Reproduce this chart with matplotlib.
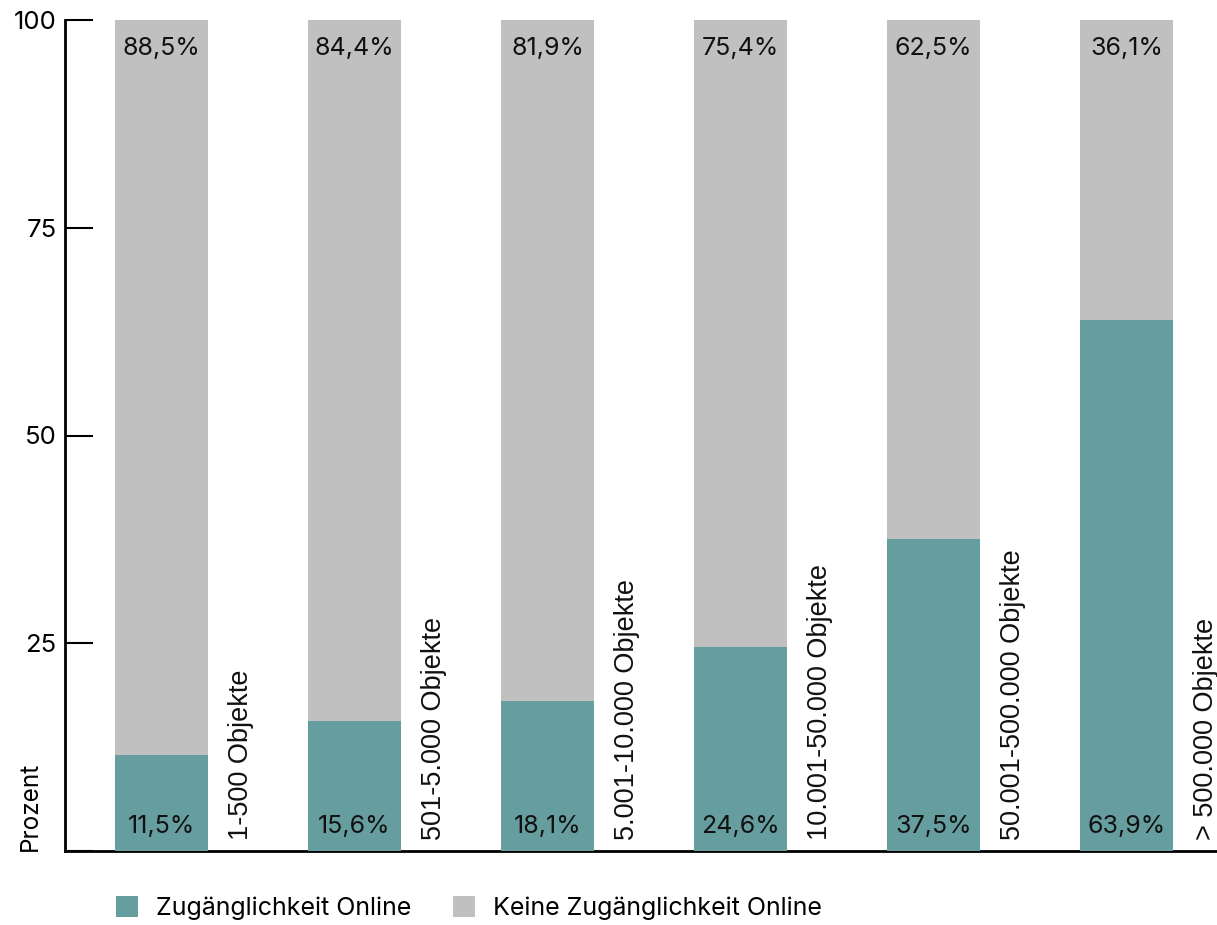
import matplotlib.pyplot as plt
import numpy as np

# Data
categories = ["1-500 Objekte", "501-5.000 Objekte", "5.001-10.000 Objekte",
              "10.001-50.000 Objekte", "50.001-500.000 Objekte", "> 500.000 Objekte"]
online = [11.5, 15.6, 18.1, 24.6, 37.5, 63.9]
offline = [88.5, 84.4, 81.9, 75.4, 62.5, 36.1]
yticks = [25, 50, 75, 100]

teal = "#669ea0"
grey = "#c0c0c0"
num_font = ["Inter", "DejaVu Sans"]
cat_font = ["Liberation Sans", "DejaVu Sans"]

fig = plt.figure(figsize=(12.17, 9.25), dpi=100)
ax = fig.add_axes([65 / 1217, (925 - 851) / 925, 1 - 65 / 1217, (851 - 20) / 925])

x = np.arange(len(categories))
w = 0.482
ax.bar(x, online, width=w, color=teal, zorder=3, label="Zugänglichkeit Online")
ax.bar(x, offline, width=w, bottom=online, color=grey, zorder=3,
       label="Keine Zugänglichkeit Online")

# value labels
for i in range(len(x)):
    ax.text(x[i], 2.9, f"{online[i]:.1f}%".replace(".", ","), ha="center", va="center",
            fontsize=18, family=num_font, color="#111111", zorder=4)
    ax.text(x[i], 96.6, f"{offline[i]:.1f}%".replace(".", ","), ha="center", va="center",
            fontsize=18, family=num_font, color="#111111", zorder=4)
    # category labels next to the bars
    ax.text(x[i] + 0.41, 1.3, categories[i], rotation=90, ha="center", va="bottom",
            fontsize=19.5, family=cat_font, color="#111111")

ax.set_xlim(-0.5, (1217 - 161.5) / 193)
ax.set_ylim(0, 100)
ax.set_xticks([])
ax.set_yticks([0] + yticks)
ax.set_yticklabels([""] + [str(t) for t in yticks], family=num_font, fontsize=18.5)
ax.tick_params(axis="y", direction="in", length=20, width=1.5, pad=6, color="black")

for s in ["top", "right"]:
    ax.spines[s].set_visible(False)
ax.spines["left"].set_linewidth(2)
ax.spines["bottom"].set_linewidth(2)

ax.text(-0.03, 0, "Prozent", rotation=90, ha="center", va="bottom",
        transform=ax.transAxes, fontsize=17.5, family=num_font)

fig.legend(loc="center left", bbox_to_anchor=(0.077, 0.018), ncol=2, frameon=False,
           prop={"family": num_font, "size": 18}, handlelength=0.88, handleheight=0.88,
           handletextpad=0.72, columnspacing=1.68)

fig.savefig("out.png", dpi=100)
